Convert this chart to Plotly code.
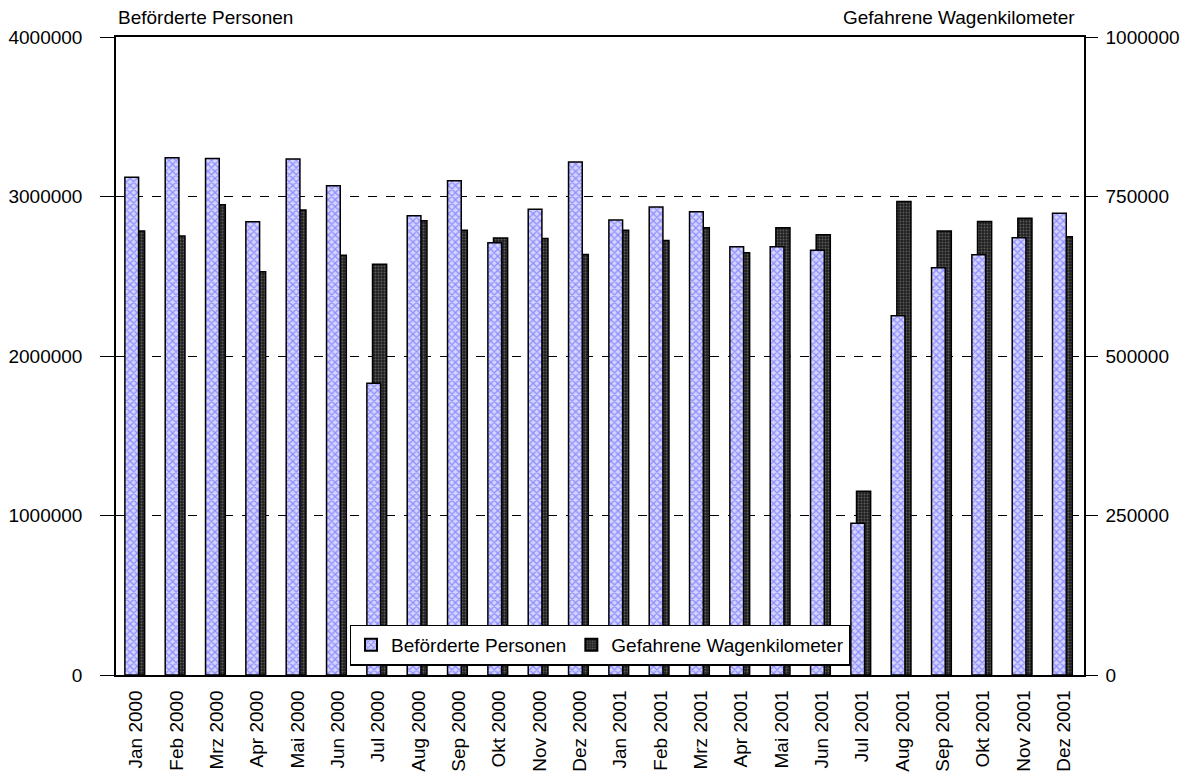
import plotly.graph_objects as go

categories = ["Jan 2000", "Feb 2000", "Mrz 2000", "Apr 2000", "Mai 2000", "Jun 2000",
              "Jul 2000", "Aug 2000", "Sep 2000", "Okt 2000", "Nov 2000", "Dez 2000",
              "Jan 2001", "Feb 2001", "Mrz 2001", "Apr 2001", "Mai 2001", "Jun 2001",
              "Jul 2001", "Aug 2001", "Sep 2001", "Okt 2001", "Nov 2001", "Dez 2001"]

befoerderte_personen = [3120000, 3243000, 3239000, 2842000, 3235000, 3068000,
                        1829000, 2880000, 3099000, 2710000, 2920000, 3216000,
                        2853000, 2934000, 2905000, 2685000, 2685000, 2663000,
                        951000, 2253000, 2554000, 2635000, 2742000, 2895000]

wagenkilometer = [696000, 688000, 737000, 632000, 729000, 658000,
                  644000, 712000, 697000, 685000, 684000, 659000,
                  697000, 681000, 701000, 662000, 701000, 690000,
                  288000, 742000, 696000, 711000, 716000, 687000]

left_ticks = [0, 1000000, 2000000, 3000000, 4000000]
right_ticks = [0, 250000, 500000, 750000, 1000000]

FONT = "Liberation Sans, Arial, sans-serif"
FS = 19

fig = go.Figure()

# Wagenkilometer on the main (right-side) axis so that it is drawn underneath
fig.add_trace(go.Bar(
    x=categories, y=wagenkilometer, name="Gefahrene Wagenkilometer",
    yaxis="y", offset=-0.14, width=0.35, legendrank=2,
    marker=dict(color="#1e1e1e", line=dict(color="black", width=1.5),
                pattern=dict(shape=".", fgcolor="#9a9a9a", bgcolor="#1e1e1e",
                             size=3, solidity=0.35, fillmode="overlay")),
))

# Beförderte Personen on the overlaying (left-side) axis, drawn on top
fig.add_trace(go.Bar(
    x=categories, y=befoerderte_personen, name="Beförderte Personen",
    yaxis="y2", offset=-0.28, width=0.34, legendrank=1,
    marker=dict(color="#b8b8ff", line=dict(color="black", width=1.5),
                pattern=dict(shape="x", fgcolor="#4646ff", bgcolor="#d4d4ff",
                             size=5, solidity=0.45, fillmode="overlay")),
))

# the page body has an 8px margin (top/left), so the figure is made 8px smaller
fig.update_layout(
    width=1187, height=766,
    margin=dict(l=108, r=111, t=29, b=99),
    paper_bgcolor="white", plot_bgcolor="white",
    font=dict(family=FONT, size=FS, color="black"),
    barmode="overlay",
    showlegend=True,
    legend=dict(orientation="h", x=0.5, xanchor="center", y=0.047, yanchor="middle",
                bgcolor="white", bordercolor="black", borderwidth=1.5,
                font=dict(family=FONT, size=FS, color="black"),
                itemsizing="constant", tracegroupgap=0, itemwidth=30),
    xaxis=dict(type="category", tickangle=-90, showline=True, linecolor="black",
               linewidth=1.5, mirror=True, showgrid=False, ticks="",
               automargin=False,
               tickfont=dict(family=FONT, size=FS, color="black"),
               ticklabelstandoff=6),
    yaxis=dict(range=[0, 1000000], tickvals=right_ticks, tickformat="d",
               side="right",
               showline=True, linecolor="black", linewidth=1.5, mirror=True,
               ticks="outside", ticklen=12, tickcolor="black", tickwidth=1,
               showgrid=True, gridcolor="black", griddash="dash", gridwidth=1,
               zeroline=False, ticklabelstandoff=4, automargin=False,
               tickfont=dict(family=FONT, size=FS, color="black")),
    yaxis2=dict(range=[0, 4000000], tickvals=left_ticks, tickformat="d",
                overlaying="y", side="left",
                showline=True, linecolor="black", linewidth=1.5,
                ticks="outside", ticklen=14, tickcolor="black", tickwidth=1,
                showgrid=False, zeroline=False, ticklabelstandoff=14,
                automargin=False,
                tickfont=dict(family=FONT, size=FS, color="black")),
    annotations=[
        dict(text="Beförderte Personen", xref="paper", yref="paper", x=0.0, y=1.031,
             xanchor="left", yanchor="middle", showarrow=False,
             font=dict(family=FONT, size=FS, color="black")),
        dict(text="Gefahrene Wagenkilometer", xref="paper", yref="paper", x=0.9925, y=1.031,
             xanchor="right", yanchor="middle", showarrow=False,
             font=dict(family=FONT, size=FS, color="black")),
    ],
)

fig.write_html("out.html")
